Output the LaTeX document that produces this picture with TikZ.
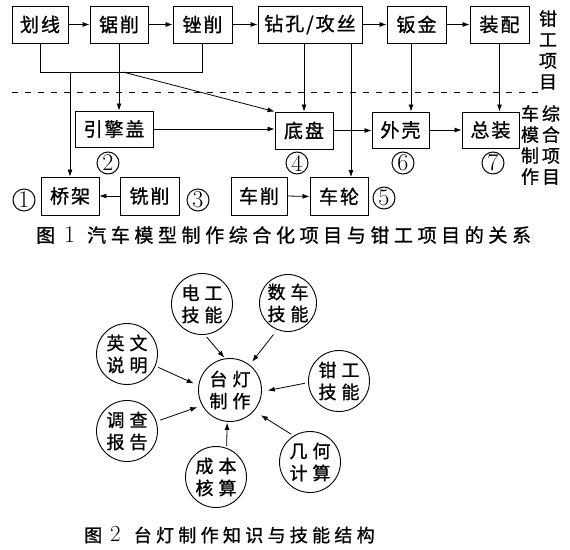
\documentclass[tikz,border=0pt]{standalone}
\usepackage{fontspec}
\newfontfamily\cjk{Noto Sans CJK SC}[FakeBold=1]
\usetikzlibrary{arrows.meta,calc}
\makeatletter
\newcommand\spc[2]{\begingroup\def\spc@sep{}\@tfor\spc@c:=#2\do{\spc@sep\spc@c\def\spc@sep{\hspace{#1}}}\endgroup}
\makeatother
\newcommand\bx[1]{\spc{2pt}{#1}}
\newcommand\ct[2]{\spc{5pt}{#1}\\\spc{5pt}{#2}}
\newcommand\boxfont{\cjk\fontsize{19}{19}\selectfont}
\newcommand\circfont{\cjk\fontsize{18}{22}\selectfont}
\newcommand\vfont{\cjk\fontsize{18}{21}\selectfont}
\newcommand\numfont{\rmfamily\fontsize{24}{24}\selectfont}
\begin{document}
\begin{tikzpicture}[x=1pt,y=-1pt,
  box/.style={draw, line width=0.9pt, inner sep=0pt, minimum height=37pt, font=\boxfont},
  arr/.style={-{Latex[length=7pt,width=5pt]}, line width=0.8pt},
  ln/.style={line width=0.8pt},
  circ/.style={draw, circle, line width=0.9pt, inner sep=0pt, minimum size=61pt, align=center, font=\circfont},
  num/.style={draw, circle, line width=1pt, minimum size=22pt, inner sep=0pt, font=\numfont},
  vlab/.style={align=center, font=\vfont, inner sep=0pt},
  captxt/.style={inner sep=0pt, anchor=west}]
\useasboundingbox[fill=white] (0,0) rectangle (570,549);
% ---- Figure 1: top row
\node[box, minimum width=56pt] (hx) at (40,24.5) {\bx{划线}};
\node[box, minimum width=58pt] (jx) at (119,24.5) {\bx{锯削}};
\node[box, minimum width=59pt] (cx) at (202.5,24.5) {\bx{锉削}};
\node[box, minimum width=104pt] (zk) at (310,24.5) {\bx{钻孔/攻丝}};
\node[box, minimum width=59pt] (bj) at (416.5,24.5) {\bx{钣金}};
\node[box, minimum width=59pt] (zp) at (499.5,24.5) {\bx{装配}};
\node[vlab] (qg) at (548,50) {钳\\工\\项\\目};
% dashed separator
\coordinate (dl) at (12,92);
\coordinate (dr) at (543,92);
\draw[ln, dash pattern=on 6pt off 7pt] (dl) -- (dr);
% ---- lower rows
\node[box, minimum width=78pt, minimum height=36pt] (yq) at (114,129) {\bx{引擎盖}};
\node[box, minimum width=58pt] (dp) at (304,130.5) {\bx{底盘}};
\node[box, minimum width=57pt, minimum height=36pt] (wk) at (400.5,130) {\bx{外壳}};
\node[box, minimum width=57pt, minimum height=36pt] (zz) at (490.5,130) {\bx{总装}};
\node[box, minimum width=58pt, minimum height=38pt] (qj) at (70,196) {\bx{桥架}};
\node[box, minimum width=59pt, minimum height=38pt] (xx) at (149.5,196) {\bx{铣削}};
\node[box, minimum width=56pt, minimum height=38pt] (cxl) at (259,196) {\bx{车削}};
\node[box, minimum width=58pt, minimum height=38pt] (cl) at (339,196.5) {\bx{车轮}};
\node[vlab] (cm) at (530,145) {车\\模\\制\\作};
\node[vlab] (zh) at (551,145) {综\\合\\项\\目};
% numbers
\node[num] (n1) at (24,200) {1};
\node[num] (n2) at (108,163) {2};
\node[num] (n3) at (198,200) {3};
\node[num] (n4) at (297,163) {4};
\node[num] (n5) at (384,198) {5};
\node[num] (n6) at (403,163) {6};
\node[num] (n7) at (493,163) {7};
% connectors
\draw[arr] (hx.east) -- (jx.west);
\draw[arr] (jx.east) -- (cx.west);
\draw[arr] (cx.east) -- (zk.west);
\draw[arr] (zk.east) -- (bj.west);
\draw[arr] (bj.east) -- (zp.west);
\coordinate (jn) at (0,72);
\draw[ln] (hx.south) |- (cx.south |- jn) -- (cx.south);
\draw[arr] (jx.south) -- (jx.south |- yq.north);
\draw[arr] (qj.north |- jn) -- (qj.north);
\coordinate (d0) at (123,72);
\draw[arr] (d0) -- (dp.north west);
\draw[arr] (yq.east) -- (yq.east -| dp.west);
\draw[arr] (dp.north |- zk.south) -- (dp.north);
\coordinate (zk2) at ($(zk.south)+(41,0)$);
\draw[arr] (zk2) -- (zk2 |- cl.north);
\draw[arr] (dp.east) -- (dp.east -| wk.west);
\coordinate (bj2) at ($(bj.south)+(-5.5,0)$);
\draw[arr] (bj2) -- (bj2 |- wk.north);
\draw[arr] (wk.east) -- (zz.west);
\draw[arr] (zp.south) -- (zp.south |- zz.north);
\draw[arr] (xx.west) -- (qj.east);
\draw[arr] (cxl.east) -- (cl.west);
\node[captxt] (cap1) at (36,235) {\cjk\fontsize{19}{19}\selectfont 图\hspace{9pt}{\rmfamily\fontsize{24}{24}\selectfont 1}\hspace{12pt}\spc{4.6pt}{汽车模型制作综合化项目与钳工项目的关系}};
% ---- Figure 2
\node[circ, minimum size=63pt] (c0) at (230,390) {\ct{台灯}{制作}};
\node[circ] (c1) at (202,304) {\ct{电工}{技能}};
\node[circ, minimum size=57pt] (c2) at (288,303) {\ct{数车}{技能}};
\node[circ] (c3) at (127,354) {\ct{英文}{说明}};
\node[circ] (c4) at (339,381) {\ct{钳工}{技能}};
\node[circ] (c5) at (127,431) {\ct{调查}{报告}};
\node[circ] (c6) at (216,477) {\ct{成本}{核算}};
\node[circ] (c7) at (310,462) {\ct{几何}{计算}};
\draw[arr, shorten <=3pt, shorten >=1pt] (c1.-85) -- (c0.99);
\draw[arr, shorten <=6pt, shorten >=4pt] (c2.-112) -- (c0.52);
\draw[arr, shorten <=3pt, shorten >=5pt] (c3.-23) -- (c0.172);
\draw[arr, shorten <=3pt, shorten >=6pt] (c4.183) -- (c0.-3);
\draw[arr, shorten <=4pt, shorten >=5pt] (c5.18) -- (c0.209);
\draw[arr, shorten <=2pt, shorten >=1pt] (c6.70) -- (c0.-95);
\draw[arr, shorten <=3pt, shorten >=8pt] (c7.122) -- (c0.-41);
\node[captxt] (cap2) at (84,535) {\cjk\fontsize{18}{18}\selectfont 图\hspace{8pt}{\rmfamily\fontsize{23}{23}\selectfont 2}\hspace{13pt}\spc{4.3pt}{台灯制作知识与技能结构}};
\end{tikzpicture}
\end{document}
